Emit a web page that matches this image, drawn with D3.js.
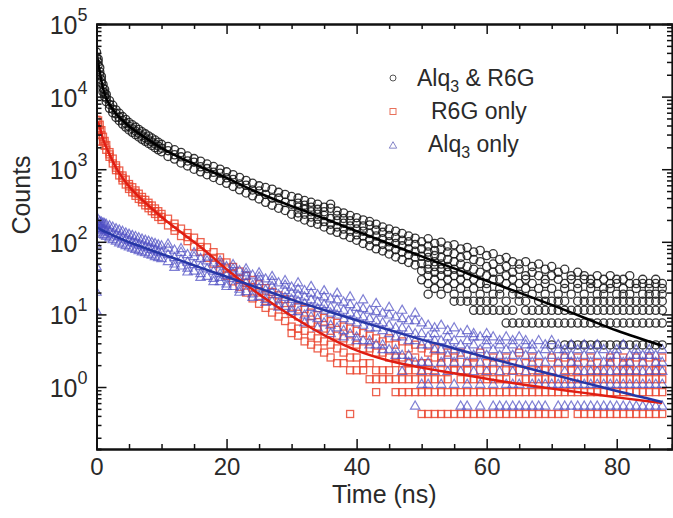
<!DOCTYPE html>
<html>
<head>
<meta charset="utf-8">
<script src="https://cdn.jsdelivr.net/npm/d3@7"></script>
<style>
  body { margin: 0; background: #fff; }
  svg { display: block; }
  text { font-family: "Liberation Sans", Arial, sans-serif; fill: #2a2a2a; }
</style>
</head>
<body>
<svg id="chart" width="673" height="518"></svg>
<script>
// Time channels (ns) of the decay traces; every series below has one entry per channel
const timeNs = [0, 0.25, 0.5, 0.75, 1, 1.25, 1.5,
  2, 2.5, 3, 3.5, 4, 4.5, 5, 5.5, 6, 6.5, 7, 7.5, 8, 8.5, 9, 9.5, 10,
  11, 12, 13, 14, 15, 16, 17, 18, 19, 20, 21, 22, 23, 24, 25, 26, 27, 28, 29, 30,
  31, 32, 33, 34, 35, 36, 37, 38, 39, 40, 41, 42, 43, 44, 45, 46, 47, 48, 49, 50,
  51, 52, 53, 54, 55, 56, 57, 58, 59, 60, 61, 62, 63, 64, 65, 66, 67, 68, 69, 70,
  71, 72, 73, 74, 75, 76, 77, 78, 79, 80, 81, 82, 83, 84, 85, 86, 87];

// Alq3 & R6G (black circles): counts read at each channel
const alqR6gCounts = [
  [41000, 34000, 20000], [33000, 27000, 30000], [25000, 20000, 22000], [19000, 15500, 17000],
  [14700, 11600, 13000], [12600, 10000, 11200], [10700, 8500, 9500],
  [8800, 6900, 7800], [7600, 6000, 6700], [6550, 5160, 5800], [5900, 4650, 5200], [5300, 4180, 4700],
  [4840, 3810, 4280], [4400, 3470, 3900], [4090, 3220, 3620], [3800, 2990, 3360], [3530, 2780, 3120],
  [3280, 2580, 2900], [3070, 2420, 2710], [2870, 2260, 2540], [2690, 2120, 2380], [2520, 1980, 2230],
  [2350, 1850, 2080], [2200, 1740, 1950],
  [2050, 1500, 1800], [1850, 1380, 1580], [1700, 1220, 1480], [1520, 1110, 1300], [1400, 1000, 1250],
  [1290, 920, 1080], [1180, 840, 1020], [1090, 770, 906], [1000, 700, 880], [920, 640, 760],
  [840, 580, 720], [770, 520, 627], [700, 470, 600], [640, 430, 517], [590, 390, 500],
  [560, 350, 450], [530, 320, 398], [480, 290, 400], [450, 270, 350], [420, 240, 330],
  [400, 220, 300, 250, 340], [370, 200, 280, 240, 320], [350, 185, 260, 220, 300], [330, 175, 240, 205, 280],
  [300, 160, 230, 190, 260], [290, 145, 210, 330, 175], [265, 135, 195, 160, 230], [250, 125, 180, 150, 210],
  [230, 115, 165, 140, 195], [215, 105, 150, 180, 125], [200, 95, 140, 120, 165], [190, 88, 130, 170, 108],
  [175, 80, 120, 100, 145], [160, 75, 110, 135, 92], [150, 68, 100, 85, 122], [140, 62, 95, 115, 78],
  [130, 57, 88, 72, 105], [120, 52, 80, 100, 66], [112, 48, 74, 62, 92], [100, 80, 63, 50, 40, 30],
  [110, 87.4, 72.2, 60.8, 49.4, 41.8, 34.2, 26.6, 19], [95, 76, 64.6, 53.2, 45.6, 38, 30.4, 22.8],
  [98.8, 79.8, 60.8, 49.4, 41.8, 34.2, 26.6, 19], [87.4, 72.2, 57, 45.6, 38, 30.4, 22.8],
  [91.2, 68.4, 53.2, 41.8, 34.2, 26.6, 19, 15.2], [79.8, 60.8, 49.4, 38, 30.4, 22.8, 15.2],
  [83.6, 64.6, 45.6, 34.2, 26.6, 19, 15.2], [72.2, 57, 41.8, 30.4, 22.8, 15.2, 11.4],
  [76, 53.2, 38, 26.6, 19, 15.2, 11.4], [64.6, 45.6, 34.2, 26.6, 22.8, 15.2, 11.4],
  [68.4, 49.4, 38, 30.4, 19, 15.2, 11.4], [57, 41.8, 30.4, 22.8, 19, 11.4],
  [60.8, 45.6, 34.2, 26.6, 15.2, 11.4, 7.6], [53.2, 38, 30.4, 22.8, 19, 11.4, 7.6],
  [49.4, 41.8, 26.6, 19, 15.2, 7.6], [53.2, 34.2, 30.4, 22.8, 15.2, 11.4, 7.6],
  [45.6, 38, 26.6, 19, 11.4, 7.6], [49.4, 34.2, 22.8, 15.2, 11.4, 7.6],
  [41.8, 30.4, 26.6, 19, 15.2, 11.4, 7.6], [45.6, 34.2, 22.8, 15.2, 11.4, 7.6, 3.8],
  [38, 30.4, 19, 15.2, 11.4, 7.6], [41.8, 26.6, 22.8, 15.2, 11.4, 7.6, 3.8],
  [34.2, 30.4, 19, 11.4, 7.6, 3.8], [38, 26.6, 22.8, 15.2, 11.4, 7.6, 3.8],
  [34.2, 30.4, 19, 15.2, 11.4, 7.6, 3.8], [30.4, 26.6, 22.8, 15.2, 11.4, 7.6, 3.8],
  [34.2, 26.6, 19, 15.2, 11.4, 7.6, 3.8], [30.4, 22.8, 19, 15.2, 11.4, 7.6, 3.8],
  [34.2, 26.6, 22.8, 15.2, 11.4, 7.6, 3.8], [30.4, 26.6, 19, 15.2, 11.4, 7.6, 3.8],
  [30.4, 22.8, 19, 15.2, 11.4, 7.6, 3.8], [34.2, 26.6, 19, 15.2, 11.4, 7.6, 3.8],
  [26.6, 22.8, 15.2, 11.4, 7.6, 3.8], [30.4, 26.6, 19, 15.2, 11.4, 7.6, 3.8],
  [26.6, 22.8, 19, 15.2, 11.4, 7.6, 3.8], [30.4, 26.6, 19, 15.2, 11.4, 7.6, 3.8],
  [26.6, 22.8, 19, 15.2, 11.4, 7.6, 3.8]
];

// R6G only (red squares)
const r6gCounts = [
  [4800, 3400, 2400], [4700, 4000], [4100, 3500], [3450, 2950], [2800, 2400], [2450, 2100], [2150, 1850],
  [1720, 1480, 1600], [1400, 1200], [1130, 970, 1050], [960, 820], [820, 700, 760], [720, 615], [625, 535, 580],
  [565, 480], [510, 430, 470], [460, 390], [415, 350, 380], [378, 318], [345, 290, 317], [316, 264],
  [288, 242, 264], [264, 220], [242, 200, 220],
  [208, 168], [178, 142, 159], [152, 120], [132, 102, 116], [114, 86], [99, 73, 85], [84, 60], [72, 50, 60],
  [61, 41, 52], [52, 34, 44], [45, 28.5, 37], [39, 24, 31], [34, 20, 27], [29.8, 16.6, 23.4],
  [26, 14, 20], [23, 12.3, 17], [20.4, 10.6, 15.3], [18.3, 9.35, 13.2], [16.2, 8.1, 11.5],
  [14.45, 10.2, 6.8, 5.53],
  [12.75, 9.35, 6.38, 5.1], [11.9, 8.5, 5.95, 4.25], [10.6, 7.65, 5.1, 3.83], [9.78, 6.8, 4.68, 3.4],
  [8.93, 6.38, 4.25, 2.98], [8.08, 5.95, 3.83, 2.55], [7.65, 5.1, 3.4, 2.13], [6.8, 4.68, 2.98, 2.13],
  [6.38, 4.25, 2.55, 1.7, 0.425], [5.95, 3.83, 2.55, 1.7], [5.53, 3.4, 2.13, 1.7], [5.1, 3.4, 2.13, 1.28],
  [4.68, 2.98, 1.7, 1.28, 0.85], [4.25, 2.98, 1.7, 1.28], [4.68, 2.55, 1.7, 1.28],
  [3.83, 2.55, 2.13, 1.28, 0.85], [4.25, 2.55, 1.7, 1.28, 0.85], [3.4, 2.13, 1.7, 1.28, 0.85],
  [3.83, 2.55, 1.7, 1.28, 0.85], [3.4, 2.13, 1.7, 1.28, 0.85, 0.425],
  [2.98, 2.13, 1.7, 1.28, 0.85, 0.425], [3.4, 2.55, 1.7, 1.28, 0.85, 0.425], [2.55, 2.13, 1.28, 0.85, 0.425],
  [2.98, 1.7, 1.28, 0.85, 0.425], [2.55, 2.13, 1.7, 0.85, 0.425], [2.98, 1.7, 1.28, 0.85, 0.425],
  [2.13, 1.7, 1.28, 0.85, 0.425], [2.55, 2.13, 1.28, 0.85, 0.425], [2.98, 1.7, 1.28, 0.85, 0.425],
  [2.13, 1.7, 1.28, 0.85, 0.425], [2.55, 1.7, 1.28, 0.85, 0.425], [2.13, 1.28, 0.85, 0.425],
  [2.55, 1.7, 1.28, 0.85, 0.425], [2.13, 1.7, 0.85, 0.425], [2.98, 1.7, 1.28, 0.85, 0.425],
  [2.13, 1.28, 0.85, 0.425], [2.55, 1.7, 1.28, 0.85, 0.425], [2.13, 1.7, 1.28, 0.85, 0.425],
  [1.7, 1.28, 0.85, 0.425], [2.55, 1.7, 1.28, 0.85, 0.425], [2.13, 1.28, 0.85, 0.425],
  [2.55, 1.7, 1.28, 0.85, 0.425], [2.13, 1.7, 1.28, 0.85], [2.55, 1.7, 1.28, 0.85, 0.425],
  [2.13, 1.28, 0.85, 0.425], [2.55, 1.7, 1.28, 0.85, 0.425], [2.13, 1.7, 1.28, 0.85, 0.425],
  [1.7, 1.28, 0.85, 0.425], [2.55, 2.13, 1.28, 0.85, 0.425], [1.7, 1.28, 0.85, 0.425],
  [2.55, 2.13, 1.7, 1.28, 0.85, 0.425], [2.13, 1.7, 1.28, 0.85, 0.425], [2.55, 1.7, 1.28, 0.85, 0.425],
  [2.13, 1.28, 0.85, 0.425], [2.55, 1.7, 1.28, 0.85, 0.425], [2.13, 1.7, 1.28, 0.85, 0.425],
  [2.55, 1.7, 1.28, 0.85, 0.425]
];

// Alq3 only (blue triangles)
const alqCounts = [
  [190, 150, 90, 45, 20, 11], [200, 150, 172], [190, 140, 165], [185, 132, 158], [180, 125, 150], [176, 122, 146], [172, 118, 140],
  [165, 112, 136], [158, 106, 128], [150, 101, 123], [144, 96, 118], [138, 92, 113], [131, 88, 108], [126, 84, 103],
  [121, 81, 98], [117, 78, 95], [112, 75, 90], [108, 72, 88], [104, 70, 84], [101, 67, 82], [97, 65, 78],
  [94, 62, 76], [90, 60, 72], [87, 58, 70],
  [81, 53, 66, 92], [76, 49, 60, 44], [71, 46, 56, 80], [66, 43, 52, 38], [62, 39, 48, 70], [58, 36, 45, 32],
  [54, 33, 42, 61], [51, 31, 39, 28], [48, 28, 36, 32, 54], [45, 26, 34, 24], [42, 24, 31, 37, 48],
  [39.5, 22, 29, 20], [37, 20.5, 27, 33, 42], [34.5, 19, 25, 17], [32.5, 17.5, 23, 28, 37],
  [30.5, 16, 21.5, 14.5], [28.5, 15, 20, 24, 33], [27, 13.8, 18.5, 12.5], [25, 12.8, 17, 21, 29],
  [23.5, 11.9, 16, 19.5, 10.8],
  [22.1, 10.8, 15.1, 18.4, 27], [21.1, 9.72, 14, 17.3, 7.56], [19.4, 9.18, 12.4, 15.7, 24], [18.4, 8.64, 11.9, 14.6, 6.48],
  [17.3, 7.56, 11.3, 13.5, 21], [16.2, 7.02, 10.3, 12.4, 5.4], [15.7, 6.48, 9.72, 11.9, 19.4], [14.6, 5.94, 8.64, 11.3, 4.86],
  [13.5, 5.4, 8.1, 10.3, 17.3], [12.4, 4.86, 7.56, 9.72, 4.32], [11.9, 4.32, 7.02, 9.18, 15.7], [11.3, 4.32, 6.48, 8.64, 3.78],
  [10.8, 3.78, 6.48, 8.1, 14], [10.3, 3.78, 5.94, 7.56, 3.24], [9.72, 3.24, 5.4, 7.02, 12.4], [9.18, 3.24, 4.86, 6.48, 2.7],
  [8.64, 2.7, 4.86, 6.48, 1.62, 11.3], [8.1, 2.7, 4.32, 5.94, 2.16], [8.1, 2.16, 4.32, 5.4, 0.54, 10.3], [7.56, 2.16, 3.78, 5.4, 1.08, 1.62],
  [7.02, 2.16, 3.78, 4.86, 1.08], [6.48, 1.62, 3.24, 4.32, 5.4], [7.02, 2.16, 3.24, 4.32, 1.08],
  [5.94, 1.62, 2.7, 3.78, 4.86], [6.48, 1.08, 2.16, 3.24, 4.32], [5.4, 1.62, 2.7, 3.78, 0.54],
  [5.94, 1.08, 2.16, 3.24, 4.32, 0.54], [5.4, 1.62, 2.7, 3.78, 4.86], [4.86, 1.08, 2.16, 3.24, 0.54],
  [5.4, 1.62, 2.7, 3.78, 4.32], [4.86, 1.08, 2.16, 3.24, 0.54], [4.32, 1.62, 2.7, 3.78, 0.54],
  [4.86, 1.08, 2.16, 3.24, 0.54], [4.32, 1.62, 2.7, 3.78, 1.08, 0.54], [4.86, 1.08, 2.16, 3.24, 0.54],
  [4.32, 1.62, 2.7, 3.78, 0.54], [3.78, 1.08, 2.16, 3.24, 0.54], [4.32, 1.62, 2.7, 1.08, 0.54],
  [3.78, 1.08, 2.16, 3.24, 0.54], [4.32, 1.62, 2.7, 1.08], [3.78, 1.08, 2.16, 3.24, 0.54],
  [3.24, 1.62, 2.7, 1.08, 0.54], [3.78, 1.08, 2.16, 2.7, 0.54], [3.24, 1.62, 2.16, 1.08, 0.54],
  [3.78, 1.08, 2.7, 1.62, 0.54], [3.24, 1.62, 2.16, 1.08, 0.54], [3.78, 1.08, 2.7, 1.62, 0.54],
  [3.24, 1.62, 2.16, 1.08, 0.54], [2.7, 1.08, 2.16, 1.62, 0.54], [3.24, 1.62, 2.7, 1.08, 0.54],
  [3.78, 1.08, 2.16, 1.62, 0.54], [2.7, 1.62, 2.16, 1.08, 0.54], [3.24, 1.08, 2.7, 1.62, 0.54],
  [2.7, 1.62, 2.16, 1.08, 0.54], [3.24, 1.08, 2.7, 1.62, 0.54], [2.7, 1.62, 2.16, 1.08, 0.54],
  [3.24, 1.08, 2.16, 1.62, 0.54]
];

// Fitted decay curves
const fitTimeNs = [0, 0.25, 0.5, 1, 1.5, 2, 3, 4, 5, 7, 10, 13, 16, 20, 25, 30, 35, 40, 45, 50, 55, 60, 65, 70, 75, 80, 87];
const alqR6gFit = [40000, 30000, 22000, 13000, 9500, 7800, 5800, 4700, 3900, 2900, 1950, 1420, 1080, 760, 470, 310, 210, 140, 94, 63, 43, 29, 20, 13.5, 9, 6, 3.7];
const r6gFit = [4600, 4300, 3800, 2600, 2000, 1600, 1050, 760, 580, 380, 220, 135, 85, 42, 19, 9.5, 5.2, 3.2, 2.3, 1.85, 1.55, 1.3, 1.1, 0.95, 0.83, 0.72, 0.6];
const alqFit = [160, 155, 150, 142, 136, 130, 118, 108, 99, 85, 68, 55, 44, 33, 23, 16, 11.5, 8.3, 6.1, 4.5, 3.4, 2.55, 1.95, 1.5, 1.15, 0.88, 0.62];

// Axis ticks
const xTicks = [0, 20, 40, 60, 80];
const xMinorTicks = [5, 10, 15, 25, 30, 35, 45, 50, 55, 65, 70, 75, 85];
const yExponents = [0, 1, 2, 3, 4, 5];
const legendLabels = ["Alq3 & R6G", "R6G only", "Alq3 only"];

const width = 673;
const height = 518;
const margin = { top: 24, right: 1, bottom: 69, left: 96.5 };

const svg = d3.select("#chart");

const x = d3.scaleLinear().domain([0, 88.5]).range([margin.left, width - margin.right]);
const y = d3.scaleLog().domain([0.14, 1e5]).range([height - margin.bottom, margin.top]);

svg.append("defs").append("clipPath").attr("id", "plot-clip")
  .append("rect")
  .attr("x", margin.left).attr("y", margin.top)
  .attr("width", width - margin.right - margin.left)
  .attr("height", height - margin.bottom - margin.top);

const plot = svg.append("g").attr("clip-path", "url(#plot-clip)");

function flatten(counts) {
  const pts = [];
  timeNs.forEach((t, i) => {
    (counts[i] || []).forEach((v) => pts.push({ t: t, v: v }));
  });
  return pts;
}

// Black circles
plot.append("g")
  .selectAll("circle")
  .data(flatten(alqR6gCounts))
  .enter()
  .append("circle")
  .attr("cx", (d) => x(d.t))
  .attr("cy", (d) => y(d.v))
  .attr("r", 4.1)
  .attr("fill", "none")
  .attr("stroke", "#141414")
  .attr("stroke-opacity", 0.85)
  .attr("stroke-width", 1.3);

// Red squares (drawn under the blue triangles)
plot.append("g")
  .selectAll("rect")
  .data(flatten(r6gCounts))
  .enter()
  .append("rect")
  .attr("x", (d) => x(d.t) - 3.5)
  .attr("y", (d) => y(d.v) - 3.5)
  .attr("width", 7)
  .attr("height", 7)
  .attr("fill", "none")
  .attr("stroke", "#ea4630")
  .attr("stroke-opacity", 0.85)
  .attr("stroke-width", 1.3);

// Blue triangles
const tri = d3.symbol().type(d3.symbolTriangle).size(38);
plot.append("g")
  .selectAll("path")
  .data(flatten(alqCounts))
  .enter()
  .append("path")
  .attr("d", tri)
  .attr("transform", (d) => `translate(${x(d.t)},${y(d.v)})`)
  .attr("fill", "none")
  .attr("stroke", "#4f4fc4")
  .attr("stroke-opacity", 0.72)
  .attr("stroke-width", 1.2);

// Fit lines
const line = d3.line()
  .x((d) => x(d.t))
  .y((d) => y(d.v))
  .curve(d3.curveMonotoneX);

[[alqR6gFit, "#000000"], [r6gFit, "#e01d12"], [alqFit, "#2636a6"]].forEach(([vals, color]) => {
  plot.append("path")
    .datum(fitTimeNs.map((t, i) => ({ t: t, v: vals[i] })))
    .attr("d", line)
    .attr("fill", "none")
    .attr("stroke", color)
    .attr("stroke-width", 2.5);
});

// Axes (ticks pointing inward)
const xBottom = svg.append("g")
  .attr("transform", `translate(0,${height - margin.bottom})`)
  .call(d3.axisBottom(x).tickValues(xTicks).tickSizeInner(-10).tickSizeOuter(0).tickPadding(9));
svg.append("g")
  .attr("transform", `translate(0,${height - margin.bottom})`)
  .call(d3.axisBottom(x).tickValues(xMinorTicks).tickSize(-5).tickFormat(""));
svg.append("g")
  .attr("transform", `translate(0,${margin.top})`)
  .call(d3.axisTop(x).tickValues(xTicks).tickSizeInner(-10).tickSizeOuter(0).tickFormat(""));
svg.append("g")
  .attr("transform", `translate(0,${margin.top})`)
  .call(d3.axisTop(x).tickValues(xMinorTicks).tickSize(-5).tickFormat(""));

const yMajor = yExponents.map((e) => Math.pow(10, e));
const yMinor = y.ticks().filter((v) => !yMajor.some((m) => Math.abs(v - m) < 1e-9 * m));

svg.append("g")
  .attr("transform", `translate(${margin.left},0)`)
  .call(d3.axisLeft(y).tickValues(yMajor).tickSizeInner(-10).tickSizeOuter(0).tickFormat(""));
svg.append("g")
  .attr("transform", `translate(${margin.left},0)`)
  .call(d3.axisLeft(y).tickValues(yMinor).tickSize(-5).tickFormat(""));
svg.append("g")
  .attr("transform", `translate(${width - margin.right},0)`)
  .call(d3.axisRight(y).tickValues(yMajor).tickSizeInner(-10).tickSizeOuter(0).tickFormat(""));
svg.append("g")
  .attr("transform", `translate(${width - margin.right},0)`)
  .call(d3.axisRight(y).tickValues(yMinor).tickSize(-5).tickFormat(""));

svg.selectAll(".domain").attr("stroke", "#111").attr("stroke-width", 1.8);
svg.selectAll(".tick line").attr("stroke", "#111").attr("stroke-width", 1.5);

xBottom.selectAll(".tick text")
  .style("font-size", "24px")
  .style("font-family", "'Liberation Sans', Arial, sans-serif")
  .attr("fill", "#2a2a2a");

// Y tick labels as 10^n
const yLabels = svg.append("g");
yExponents.forEach((e) => {
  const t = yLabels.append("text")
    .attr("x", margin.left - 9)
    .attr("y", y(Math.pow(10, e)) + 10)
    .attr("text-anchor", "end")
    .style("font-size", "25px");
  t.append("tspan").text("10");
  t.append("tspan").attr("dy", -13).style("font-size", "18px").text(String(e));
});

// Axis titles
svg.append("text")
  .attr("transform", `translate(30,195) rotate(-90)`)
  .attr("text-anchor", "middle")
  .style("font-size", "25px")
  .text("Counts");

svg.append("text")
  .attr("x", (margin.left + width - margin.right) / 2)
  .attr("y", 503)
  .attr("text-anchor", "middle")
  .style("font-size", "25px")
  .text("Time (ns)");

// Legend
const legend = svg.append("g");
const legendRows = [86, 119, 152];
const legendTextX = [417, 431, 428];

legend.append("circle").attr("cx", 393).attr("cy", legendRows[0] - 8).attr("r", 3)
  .attr("fill", "none").attr("stroke", "#555").attr("stroke-width", 1);
legend.append("rect").attr("x", 390).attr("y", legendRows[1] - 10.5).attr("width", 6).attr("height", 6)
  .attr("fill", "none").attr("stroke", "#e8705a").attr("stroke-width", 1);
legend.append("path").attr("d", d3.symbol().type(d3.symbolTriangle).size(24))
  .attr("transform", `translate(393,${legendRows[2] - 6})`)
  .attr("fill", "none").attr("stroke", "#8585c8").attr("stroke-width", 1);

legendLabels.forEach((label, i) => {
  const t = legend.append("text")
    .attr("x", legendTextX[i])
    .attr("y", legendRows[i])
    .style("font-size", "23px");
  if (label.startsWith("Alq3")) {
    t.append("tspan").text("Alq");
    t.append("tspan").attr("dy", 6).style("font-size", "16px").text("3");
    t.append("tspan").attr("dy", -6).text(label.slice(4));
  } else {
    t.text(label);
  }
});
</script>
</body>
</html>
